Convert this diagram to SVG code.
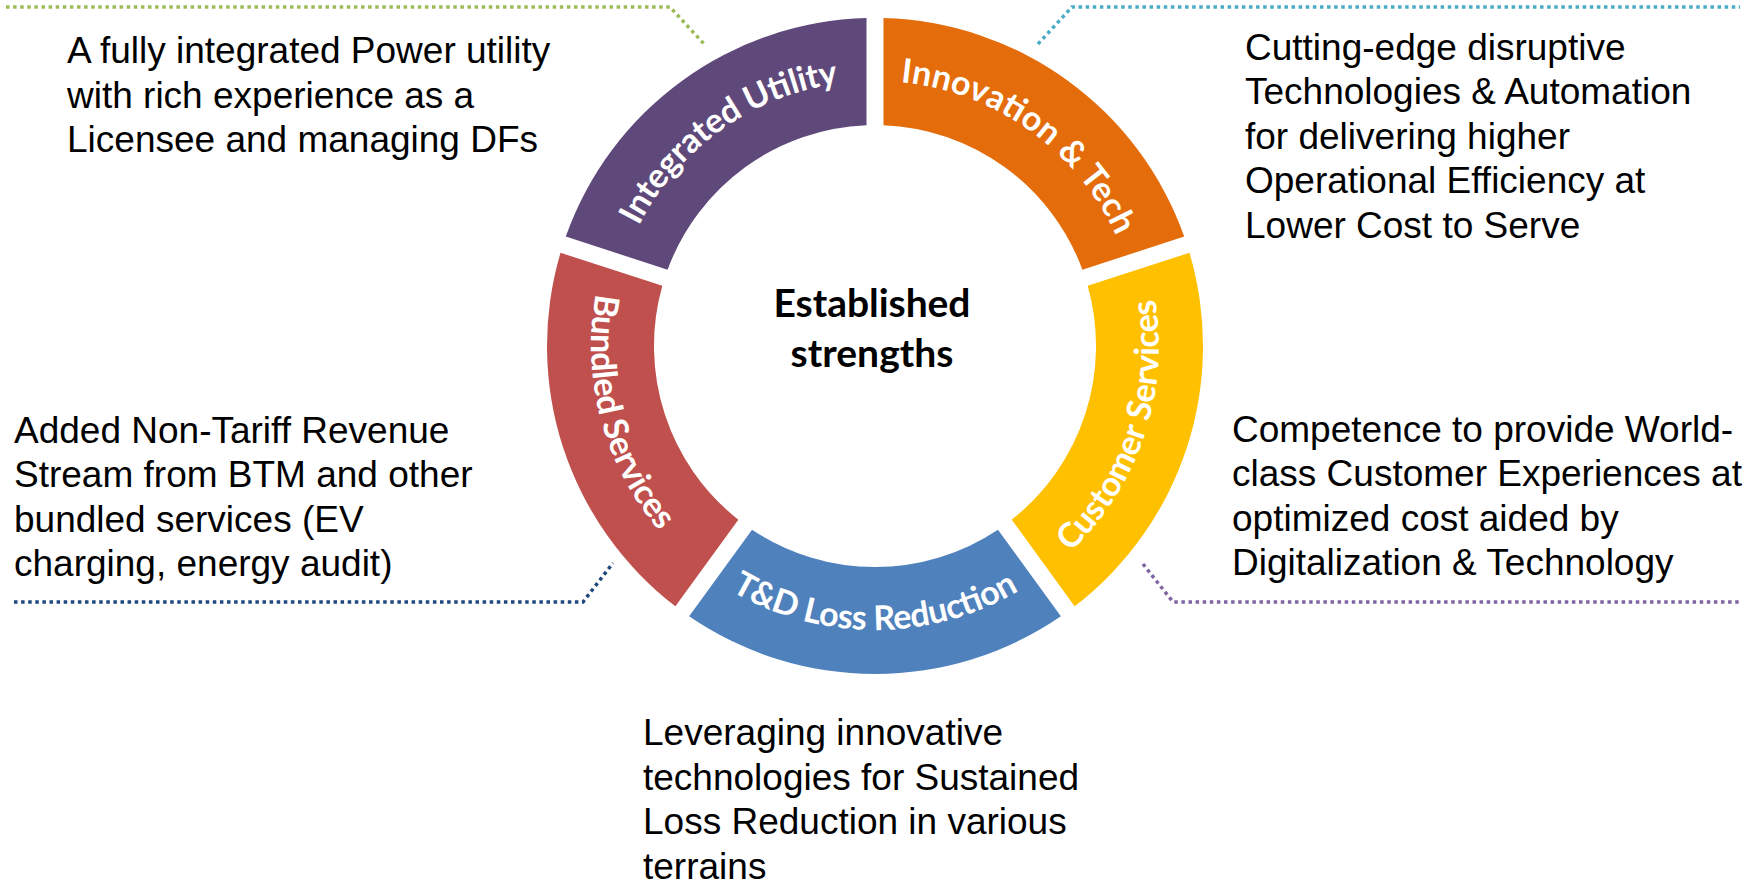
<svg xmlns="http://www.w3.org/2000/svg" width="1762" height="883" viewBox="0 0 1762 883">
<style>
.seg-label{font-family:Lato,"Open Sans","DejaVu Sans",sans-serif;font-weight:700;font-size:34px;fill:#ffffff}
.center{font-family:Lato,"Open Sans","DejaVu Sans",sans-serif;font-weight:700;font-size:39px;fill:#000000}
.body{font-family:"Liberation Sans",Arial,sans-serif;font-size:37px;fill:#000000}
.dots{fill:none;stroke-width:3.5;stroke-dasharray:3.5 3.6}
</style>
<defs>
<path id="p-iu" d="M 618.44,279.65 A 265 265 0 0 1 895.79,81.82"/>
<path id="p-it" d="M 854.21,81.82 A 265 265 0 0 1 1131.56,279.65"/>
<path id="p-cs" d="M 1023.39,588.15 A 284 284 0 0 0 1139.24,241.91"/>
<path id="p-td" d="M 692.45,563.56 A 284 284 0 0 0 1057.55,563.56"/>
<path id="p-bs" d="M 617.61,225.98 A 284 284 0 0 0 712.1,578.64"/>
</defs>
<rect width="1762" height="883" fill="#ffffff"/>
<g id="connectors">
<path id="c-iu" class="dots" stroke="#9BBB59" d="M 6,7 H 670 L 705,45"/>
<path id="c-it" class="dots" stroke="#4BACC6" d="M 1038,44 L 1072,7 H 1740"/>
<path id="c-bs" class="dots" stroke="#1F497D" d="M 14,602 H 583 L 613,563"/>
<path id="c-cs" class="dots" stroke="#8064A2" d="M 1143,564 L 1173,602 H 1740"/>
</g>
<g id="integrated-utility">
<path fill="#5F497A" d="M 866.5,18.11 A 328 328 0 0 0 565.78,236.6 L 667.6,269.67 A 221 221 0 0 1 866.5,125.16 Z"/>
<text class="seg-label"><textPath href="#p-iu" startOffset="50%" text-anchor="middle" textLength="255">Integrated Utility</textPath></text>
</g>
<g id="innovation-tech">
<path fill="#E46C0A" d="M 1184.22,236.6 A 328 328 0 0 0 883.5,18.11 L 883.5,125.16 A 221 221 0 0 1 1082.4,269.67 Z"/>
<text class="seg-label"><textPath href="#p-it" startOffset="50%" text-anchor="middle" textLength="277">Innovation &amp; Tech</textPath></text>
</g>
<g id="customer-services">
<path fill="#FFC000" d="M 1074.6,606.27 A 328 328 0 0 0 1189.47,252.76 L 1087.66,285.84 A 221 221 0 0 1 1011.68,519.67 Z"/>
<text class="seg-label"><textPath href="#p-cs" startOffset="50%" text-anchor="middle" textLength="278">Customer Services</textPath></text>
</g>
<g id="td-loss-reduction">
<path fill="#4F81BD" d="M 689.15,616.27 A 328 328 0 0 0 1060.85,616.27 L 997.93,529.66 A 221 221 0 0 1 752.07,529.66 Z"/>
<text class="seg-label"><textPath href="#p-td" startOffset="50%" text-anchor="middle" textLength="302">T&amp;D Loss Reduction</textPath></text>
</g>
<g id="bundled-services">
<path fill="#C0504D" d="M 560.53,252.76 A 328 328 0 0 0 675.4,606.27 L 738.32,519.67 A 221 221 0 0 1 662.34,285.84 Z"/>
<text class="seg-label"><textPath href="#p-bs" startOffset="50%" text-anchor="middle" textLength="254">Bundled Services</textPath></text>
</g>
<g id="center">
<text class="center" x="872" y="316.7" text-anchor="middle" textLength="197">Established</text>
<text class="center" x="872" y="366.7" text-anchor="middle" textLength="163">strengths</text>
</g>
<g id="desc-integrated-utility">
<text class="body" x="67" y="63">A fully integrated Power utility</text>
<text class="body" x="67" y="107.7">with rich experience as a</text>
<text class="body" x="67" y="152.4">Licensee and managing DFs</text>
</g>
<g id="desc-innovation-tech">
<text class="body" x="1245" y="59.5">Cutting-edge disruptive</text>
<text class="body" x="1245" y="104">Technologies &amp; Automation</text>
<text class="body" x="1245" y="148.5">for delivering higher</text>
<text class="body" x="1245" y="193">Operational Efficiency at</text>
<text class="body" x="1245" y="237.5">Lower Cost to Serve</text>
</g>
<g id="desc-bundled-services">
<text class="body" x="14" y="442.5">Added Non-Tariff Revenue</text>
<text class="body" x="14" y="487">Stream from BTM and other</text>
<text class="body" x="14" y="531.5">bundled services (EV</text>
<text class="body" x="14" y="576">charging, energy audit)</text>
</g>
<g id="desc-customer-services">
<text class="body" x="1232" y="441.5">Competence to provide World-</text>
<text class="body" x="1232" y="486">class Customer Experiences at</text>
<text class="body" x="1232" y="530.5">optimized cost aided by</text>
<text class="body" x="1232" y="575">Digitalization &amp; Technology</text>
</g>
<g id="desc-td-loss-reduction">
<text class="body" x="643" y="745">Leveraging innovative</text>
<text class="body" x="643" y="789.5">technologies for Sustained</text>
<text class="body" x="643" y="834">Loss Reduction in various</text>
<text class="body" x="643" y="878.5">terrains</text>
</g>
</svg>
